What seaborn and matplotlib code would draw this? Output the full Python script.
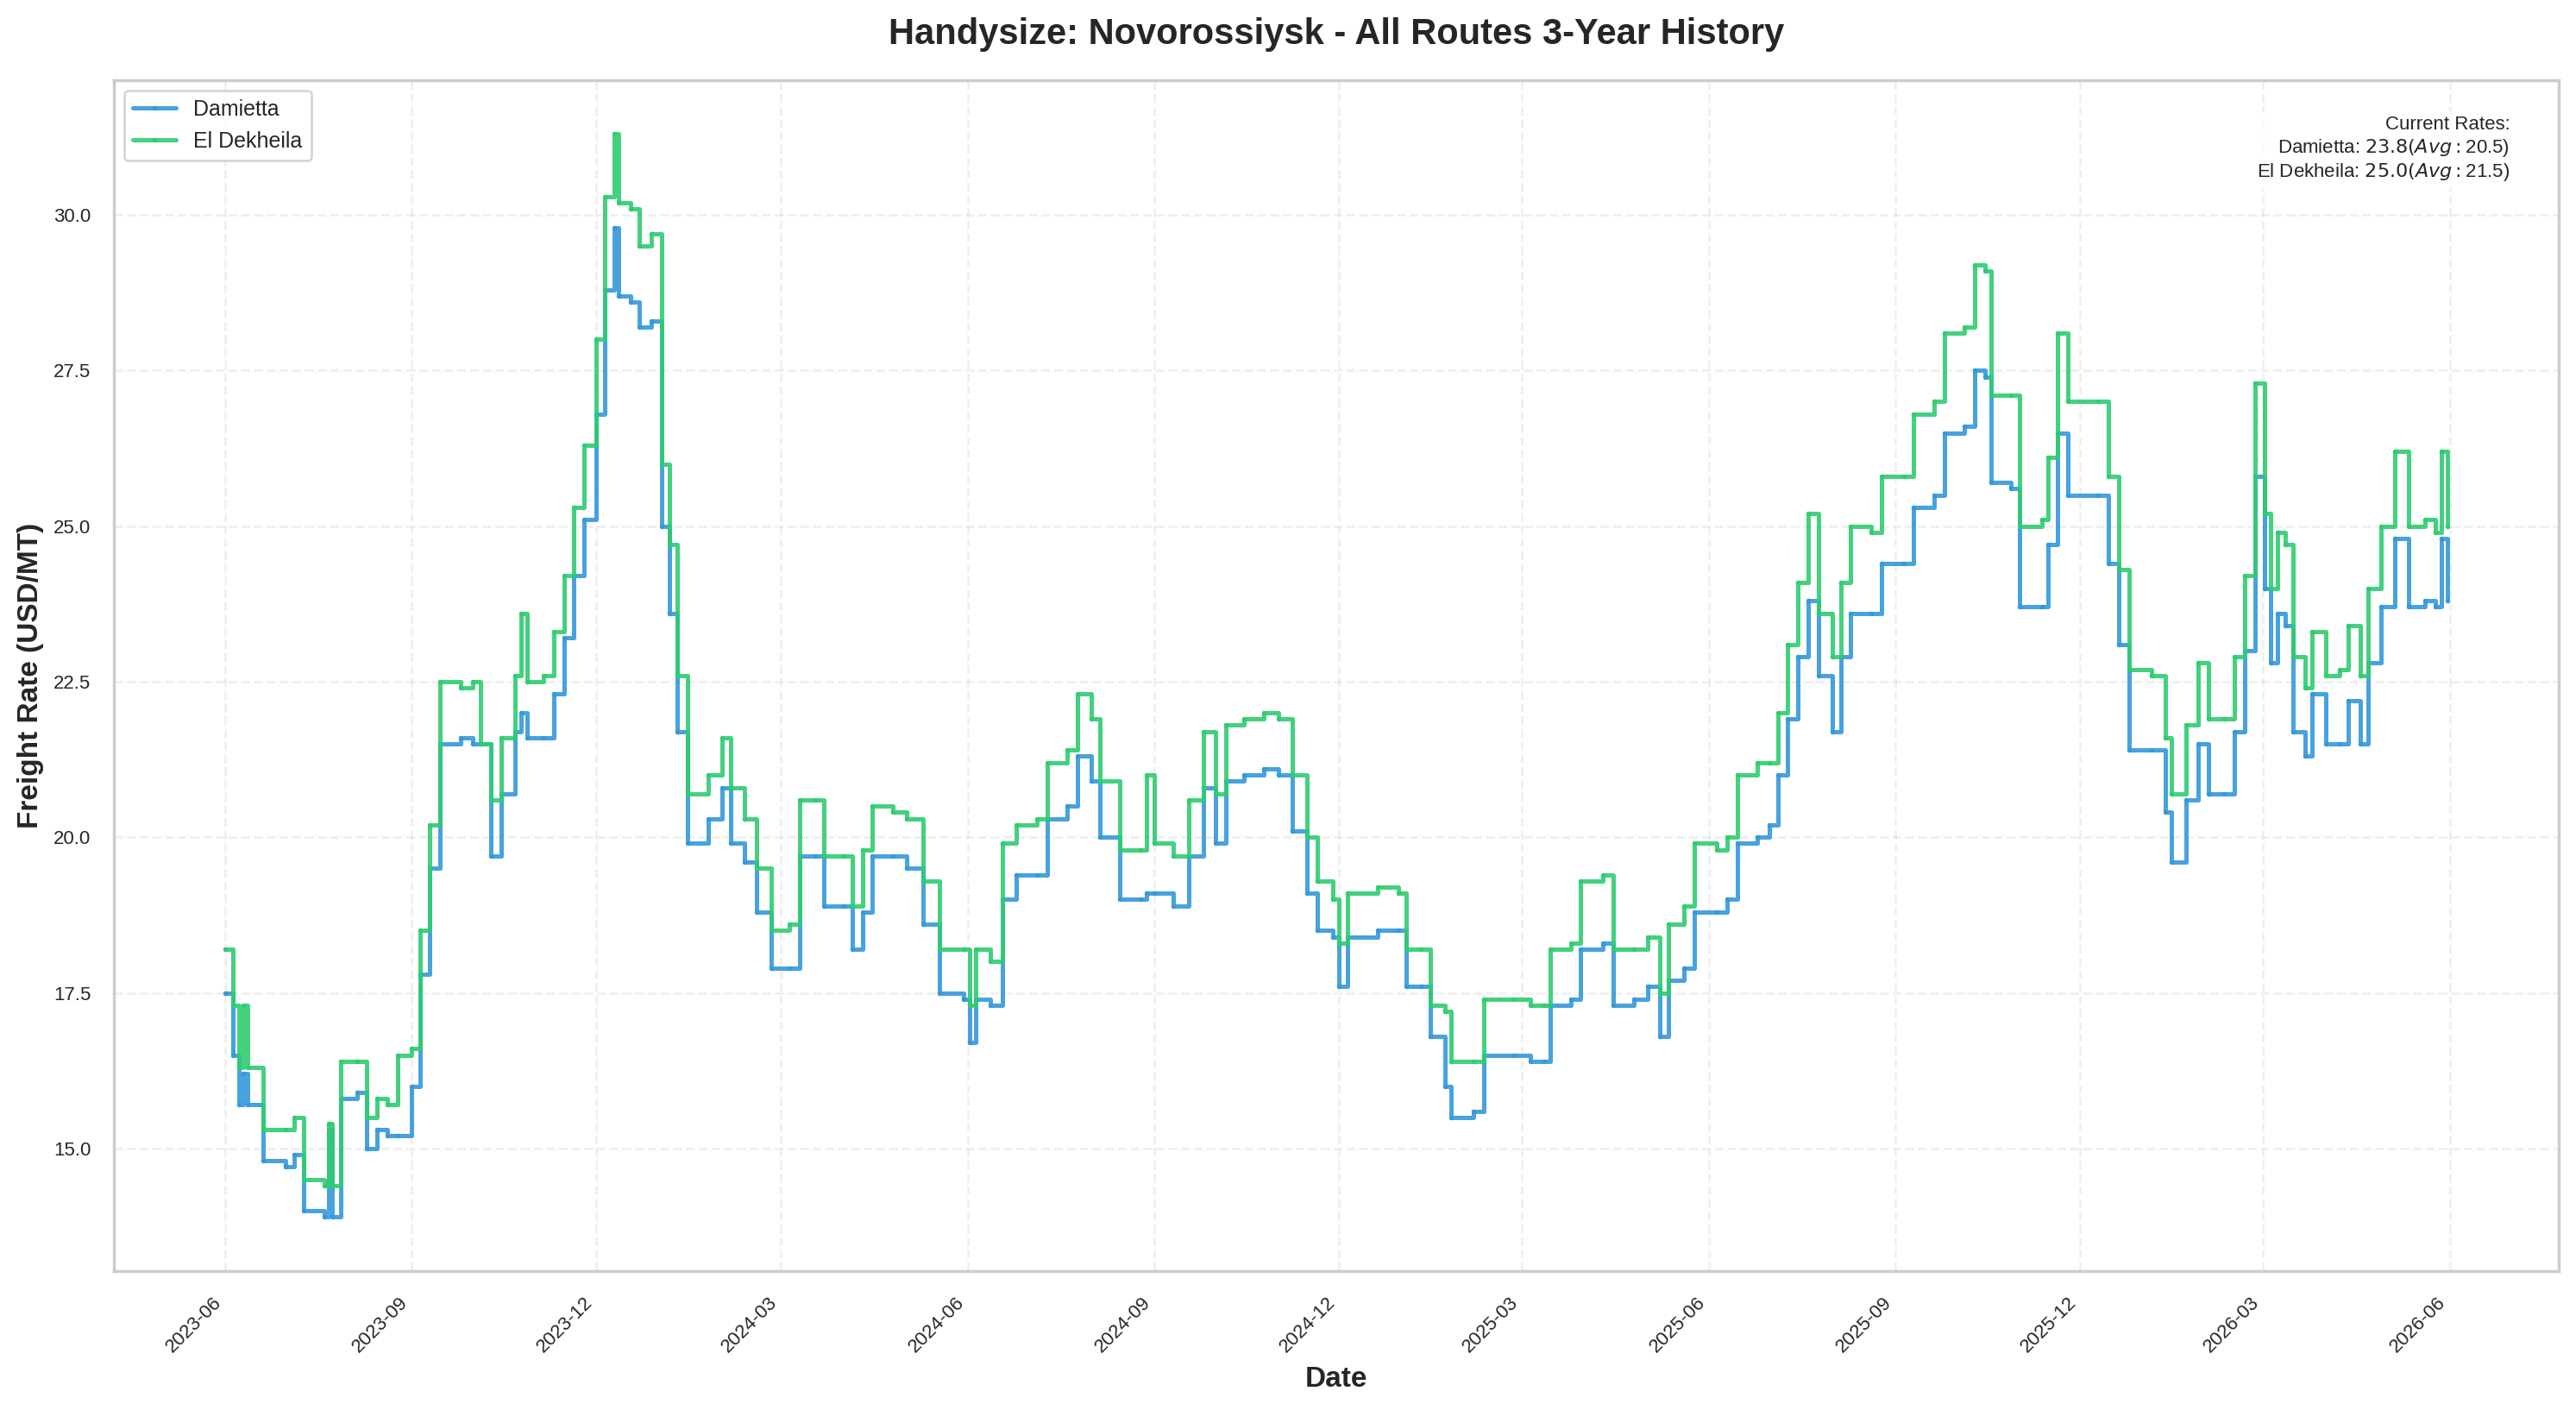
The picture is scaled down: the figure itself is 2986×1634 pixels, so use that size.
import matplotlib
matplotlib.use("Agg")
import matplotlib.pyplot as plt
import matplotlib.dates as mdates
import seaborn as sns
import pandas as pd

dates = ["2023-06-01","2023-06-05","2023-06-08","2023-06-10","2023-06-12","2023-06-20","2023-07-01","2023-07-05","2023-07-10","2023-07-20","2023-07-22","2023-07-24","2023-07-28","2023-08-05","2023-08-10","2023-08-15","2023-08-20","2023-08-25","2023-09-01","2023-09-05","2023-09-10","2023-09-15","2023-09-25","2023-10-01","2023-10-05","2023-10-10","2023-10-15","2023-10-22","2023-10-25","2023-10-28","2023-11-05","2023-11-10","2023-11-15","2023-11-20","2023-11-25","2023-12-01","2023-12-05","2023-12-10","2023-12-12","2023-12-18","2023-12-22","2023-12-28",
"2024-01-02","2024-01-06","2024-01-10","2024-01-15","2024-01-25","2024-02-01","2024-02-05","2024-02-12","2024-02-18","2024-02-25","2024-03-05","2024-03-10","2024-03-18","2024-03-22","2024-04-01","2024-04-05","2024-04-10","2024-04-15","2024-04-25","2024-05-02","2024-05-10","2024-05-18","2024-05-30","2024-06-02","2024-06-05","2024-06-12","2024-06-18","2024-06-25","2024-07-05","2024-07-10","2024-07-20","2024-07-25","2024-08-01","2024-08-05","2024-08-15","2024-08-25","2024-08-28","2024-09-01","2024-09-10","2024-09-18","2024-09-25","2024-10-01","2024-10-06","2024-10-15","2024-10-25","2024-11-01","2024-11-08","2024-11-15","2024-11-20","2024-11-28","2024-12-01","2024-12-05","2024-12-20","2024-12-30",
"2025-01-03","2025-01-10","2025-01-15","2025-01-22","2025-01-25","2025-02-05","2025-02-10","2025-02-25","2025-03-05","2025-03-12","2025-03-15","2025-03-25","2025-03-30","2025-04-10","2025-04-15","2025-04-25","2025-05-02","2025-05-08","2025-05-12","2025-05-20","2025-05-25","2025-06-05","2025-06-10","2025-06-15","2025-06-25","2025-07-01","2025-07-05","2025-07-10","2025-07-15","2025-07-20","2025-07-25","2025-08-01","2025-08-05","2025-08-10","2025-08-20","2025-08-25","2025-09-05","2025-09-10","2025-09-20","2025-09-25","2025-10-05","2025-10-10","2025-10-15","2025-10-18","2025-10-28","2025-11-01","2025-11-12","2025-11-15","2025-11-20","2025-11-25","2025-12-10","2025-12-15","2025-12-20","2025-12-25",
"2026-01-05","2026-01-12","2026-01-15","2026-01-22","2026-01-28","2026-02-02","2026-02-10","2026-02-15","2026-02-20","2026-02-25","2026-03-02","2026-03-05","2026-03-08","2026-03-12","2026-03-16","2026-03-22","2026-03-25","2026-04-01","2026-04-08","2026-04-12","2026-04-18","2026-04-22","2026-04-28","2026-05-05","2026-05-12","2026-05-20","2026-05-25","2026-05-28","2026-05-31"]

damietta = [17.5,16.5,15.7,16.2,15.7,14.8,14.7,14.9,14.0,13.9,15.3,13.9,15.8,15.9,15.0,15.3,15.2,15.2,16.0,17.8,19.5,21.5,21.6,21.5,21.5,19.7,20.7,21.7,22.0,21.6,21.6,22.3,23.2,24.2,25.1,26.8,28.8,29.8,28.7,28.6,28.2,28.3,
25.0,23.6,21.7,19.9,20.3,20.8,19.9,19.6,18.8,17.9,17.9,19.7,19.7,18.9,18.9,18.2,18.8,19.7,19.7,19.5,18.6,17.5,17.4,16.7,17.4,17.3,19.0,19.4,19.4,20.3,20.5,21.3,20.9,20.0,19.0,19.0,19.1,19.1,18.9,19.7,20.8,19.9,20.9,21.0,21.1,21.0,20.1,19.1,18.5,18.4,17.6,18.4,18.5,18.5,
17.6,17.6,16.8,16.0,15.5,15.6,16.5,16.5,16.4,16.4,17.3,17.4,18.2,18.3,17.3,17.4,17.6,16.8,17.7,17.9,18.8,18.8,19.0,19.9,20.0,20.2,21.0,21.9,22.9,23.8,22.6,21.7,22.9,23.6,23.6,24.4,24.4,25.3,25.5,26.5,26.6,27.5,27.4,25.7,25.6,23.7,23.7,24.7,26.5,25.5,25.5,24.4,23.1,21.4,
21.4,20.4,19.6,20.6,21.5,20.7,20.7,21.7,23.0,25.8,24.0,22.8,23.6,23.4,21.7,21.3,22.3,21.5,21.5,22.2,21.5,22.8,23.7,24.8,23.7,23.8,23.7,24.8,23.8]

el_dekheila = [18.2,17.3,16.3,17.3,16.3,15.3,15.3,15.5,14.5,14.4,15.4,14.4,16.4,16.4,15.5,15.8,15.7,16.5,16.6,18.5,20.2,22.5,22.4,22.5,21.5,20.6,21.6,22.6,23.6,22.5,22.6,23.3,24.2,25.3,26.3,28.0,30.3,31.3,30.2,30.1,29.5,29.7,
26.0,24.7,22.6,20.7,21.0,21.6,20.8,20.3,19.5,18.5,18.6,20.6,20.6,19.7,19.7,18.9,19.8,20.5,20.4,20.3,19.3,18.2,18.2,17.3,18.2,18.0,19.9,20.2,20.3,21.2,21.4,22.3,21.9,20.9,19.8,19.8,21.0,19.9,19.7,20.6,21.7,20.7,21.8,21.9,22.0,21.9,21.0,20.0,19.3,19.0,18.3,19.1,19.2,19.1,
18.2,18.2,17.3,17.2,16.4,16.4,17.4,17.4,17.3,17.3,18.2,18.3,19.3,19.4,18.2,18.2,18.4,17.5,18.6,18.9,19.9,19.8,20.0,21.0,21.2,21.2,22.0,23.1,24.1,25.2,23.6,22.9,24.1,25.0,24.9,25.8,25.8,26.8,27.0,28.1,28.2,29.2,29.1,27.1,27.1,25.0,25.1,26.1,28.1,27.0,27.0,25.8,24.3,22.7,
22.6,21.6,20.7,21.8,22.8,21.9,21.9,22.9,24.2,27.3,25.2,24.0,24.9,24.7,22.9,22.4,23.3,22.6,22.7,23.4,22.6,24.0,25.0,26.2,25.0,25.1,24.9,26.2,25.0]

df = pd.DataFrame({"Date": pd.to_datetime(dates), "Damietta": damietta, "El Dekheila": el_dekheila})
long = df.melt(id_vars="Date", var_name="Route", value_name="Rate")

sns.set_theme(style="whitegrid")
plt.rcParams['font.family'] = ['Arial', 'Liberation Sans', 'DejaVu Sans']
fig, ax = plt.subplots(figsize=(14.93, 8.17), dpi=200)
sns.lineplot(data=long, x="Date", y="Rate", hue="Route", palette=["#3498db", "#2ecc71"],
             linewidth=1.8, alpha=0.9, marker="o", markersize=2, markeredgewidth=0,
             drawstyle="steps-post", ax=ax)
ax.set_title("Handysize: Novorossiysk - All Routes 3-Year History", fontsize=15, fontweight="bold", pad=15)
ax.set_xlabel("Date", fontsize=12, fontweight="bold")
ax.set_ylabel("Freight Rate (USD/MT)", fontsize=12, fontweight="bold")
ax.xaxis.set_major_locator(mdates.MonthLocator(bymonth=[3, 6, 9, 12]))
ax.xaxis.set_major_formatter(mdates.DateFormatter("%Y-%m"))
plt.setp(ax.get_xticklabels(), rotation=45, ha="right", fontsize=8)
plt.setp(ax.get_yticklabels(), fontsize=8)
ax.grid(True, linestyle="--", alpha=0.3)
for s in ax.spines.values():
    s.set_edgecolor("#cccccc")
ax.legend(loc="upper left", fontsize=9, title=None)
txt = "Current Rates:\nDamietta: $23.8 (Avg: $20.5)\nEl Dekheila: $25.0 (Avg: $21.5)"
ax.text(0.98, 0.97, txt, transform=ax.transAxes, ha="right", va="top", fontsize=8,
        bbox=dict(boxstyle="round", facecolor="white", alpha=0.8, edgecolor="none"))
fig.tight_layout(pad=0.6)
fig.savefig("out.png", dpi=200)
